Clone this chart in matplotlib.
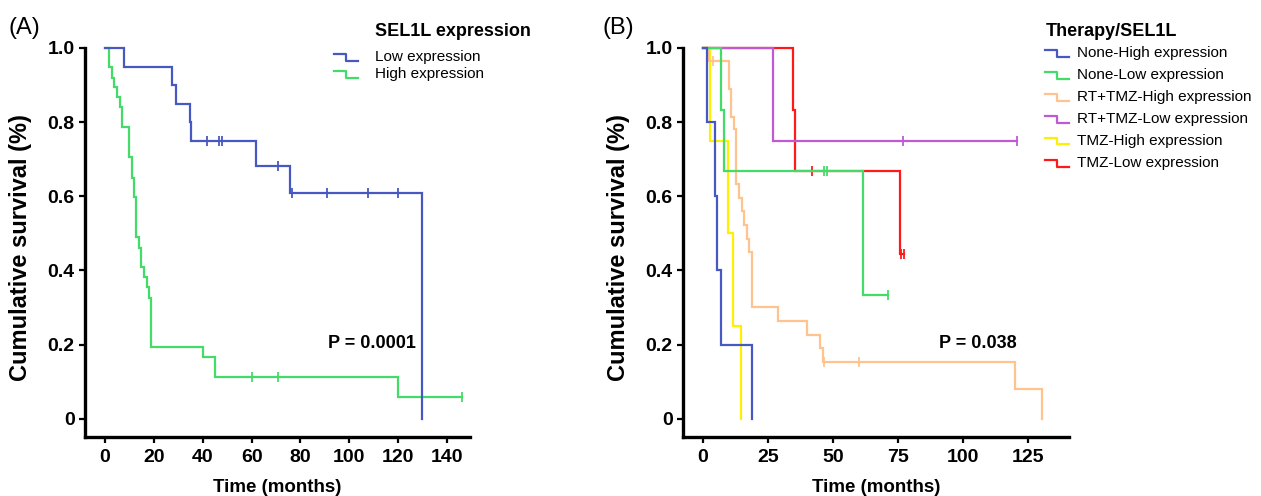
import matplotlib
matplotlib.use("Agg")
import matplotlib.pyplot as plt
from matplotlib.lines import Line2D

plt.rcParams['font.family'] = ['Liberation Sans', 'DejaVu Sans']

# ---------------- Data ----------------
# Panel A: SEL1L expression
a_low_t = [0, 7.9, 27.3, 28.9, 34.8, 35.2, 61.8, 75.9, 129.6]
a_low_s = [1.0, 0.95, 0.90, 0.85, 0.80, 0.75, 0.683, 0.608, 0.0]
a_low_cens_t = [41.6, 46.7, 47.8, 71.0, 76.7, 90.7, 107.8, 120.0]
a_low_cens_s = [0.75, 0.75, 0.75, 0.683, 0.608, 0.608, 0.608, 0.608]

a_high_t = [0, 1.8, 2.7, 3.7, 4.8, 6.1, 6.8, 10.0, 10.9, 12.0, 12.7, 14.1, 14.7,
            16.0, 17.1, 18.0, 18.8, 40.0, 45.0, 119.8, 146.0]
a_high_s = [1.0, 0.948, 0.919, 0.894, 0.868, 0.84, 0.787, 0.705, 0.65, 0.598, 0.491,
            0.461, 0.409, 0.382, 0.355, 0.326, 0.193, 0.167, 0.112, 0.058, 0.058]
a_high_cens_t = [60.0, 71.0, 146.0]
a_high_cens_s = [0.112, 0.112, 0.058]

# Panel B: Therapy/SEL1L
b_labels = ["None-High expression", "None-Low expression", "RT+TMZ-High expression",
            "RT+TMZ-Low expression", "TMZ-High expression", "TMZ-Low expression"]
b_none_high_t = [0, 1.7, 4.6, 5.5, 6.8, 18.7]
b_none_high_s = [1.0, 0.8, 0.6, 0.4, 0.2, 0.0]
b_none_high_ct, b_none_high_cs = [], []

b_none_low_t = [0, 6.8, 8.1, 61.7, 71.3]
b_none_low_s = [1.0, 0.833, 0.667, 0.333, 0.333]
b_none_low_ct = [46.5, 47.6, 71.3]
b_none_low_cs = [0.667, 0.667, 0.333]

b_rt_high_t = [0, 2.3, 10.0, 10.8, 12.1, 12.6, 14.0, 14.9, 15.9, 17.0, 17.8, 18.7,
               28.7, 39.9, 45.0, 46.0, 120.0, 130.3]
b_rt_high_s = [1.0, 0.964, 0.889, 0.814, 0.781, 0.632, 0.596, 0.56, 0.522, 0.486,
               0.45, 0.301, 0.263, 0.227, 0.191, 0.153, 0.081, 0.0]
b_rt_high_ct = [4.0, 46.5, 60.0]
b_rt_high_cs = [0.964, 0.153, 0.153]

b_rt_low_t = [0, 26.8, 120.9]
b_rt_low_s = [1.0, 0.75, 0.75]
b_rt_low_ct = [76.8, 120.9]
b_rt_low_cs = [0.75, 0.75]

b_tmz_high_t = [0, 2.7, 9.7, 11.4, 14.6]
b_tmz_high_s = [1.0, 0.75, 0.5, 0.25, 0.0]
b_tmz_high_ct, b_tmz_high_cs = [], []

b_tmz_low_t = [0, 34.7, 35.4, 75.8, 77.3]
b_tmz_low_s = [1.0, 0.833, 0.667, 0.444, 0.444]
b_tmz_low_ct = [41.8, 76.2, 77.3]
b_tmz_low_cs = [0.667, 0.444, 0.444]

y_ticks = [0, 0.2, 0.4, 0.6, 0.8, 1.0]
y_ticklabels = ["0", "0.2", "0.4", "0.6", "0.8", "1.0"]
a_xticks = [0, 20, 40, 60, 80, 100, 120, 140]
b_xticks = [0, 25, 50, 75, 100, 125]

# ---------------- Styles ----------------
BLUE = '#4858C2'
GREEN = '#44DC68'
ORANGE = '#FFC48E'
PURPLE = '#C05AD4'
YELLOW = '#FFF000'
RED = '#FF1A1A'

W, H = 1261, 496
fig = plt.figure(figsize=(W / 100, H / 100), dpi=100)


def px_axes(l, t, r, b):
    return fig.add_axes([l / W, 1 - b / H, (r - l) / W, (b - t) / H])


axA = px_axes(85, 48, 470, 437)
axB = px_axes(683, 48, 1069, 437)


def km(ax, t, s, ct, cs, color, z):
    ax.step(t, s, where='post', color=color, lw=1.6, clip_on=False, zorder=z,
            solid_joinstyle='miter')
    if ct:
        ax.plot(ct, cs, linestyle='none', marker='|', markersize=6.5,
                markeredgewidth=1.3, color=color, clip_on=False, zorder=z)


def style(ax, xlim, xticks):
    ax.set_xlim(*xlim)
    ax.set_ylim(-0.049, 1.0)
    for sp in ['top', 'right']:
        ax.spines[sp].set_visible(False)
    for sp in ['left', 'bottom']:
        ax.spines[sp].set_linewidth(2.4)
        ax.spines[sp].set_capstyle('projecting')
    ax.set_yticks(y_ticks)
    ax.set_yticklabels(y_ticklabels)
    ax.set_xticks(xticks)
    ax.tick_params(axis='both', direction='out', length=4.5, width=1.6,
                   labelsize=14)
    ax.tick_params(axis='x', pad=4)
    ax.tick_params(axis='y', pad=3)
    for lab in ax.get_xticklabels() + ax.get_yticklabels():
        lab.set_fontweight('bold')
    ax.set_xlabel("Time (months)", fontsize=13.5, fontweight='bold')
    ax.set_ylabel("Cumulative survival (%)", fontsize=17, fontweight='bold')
    ax.xaxis.set_label_coords(0.5, -0.131)
    ax.yaxis.set_label_coords(-0.168, 0.488)
    ax.xaxis.label.set_va('center')
    ax.yaxis.label.set_va('center')


# Panel A
km(axA, a_low_t, a_low_s, a_low_cens_t, a_low_cens_s, BLUE, 3)
km(axA, a_high_t, a_high_s, a_high_cens_t, a_high_cens_s, GREEN, 2)
style(axA, (-8.2, 149.4), a_xticks)
axA.text(127.3, 0.203, "P = 0.0001", ha='right', va='center', fontsize=13,
         fontweight='bold')

# Panel B
b_series = [
    (b_none_high_t, b_none_high_s, b_none_high_ct, b_none_high_cs, BLUE),
    (b_none_low_t, b_none_low_s, b_none_low_ct, b_none_low_cs, GREEN),
    (b_rt_high_t, b_rt_high_s, b_rt_high_ct, b_rt_high_cs, ORANGE),
    (b_rt_low_t, b_rt_low_s, b_rt_low_ct, b_rt_low_cs, PURPLE),
    (b_tmz_high_t, b_tmz_high_s, b_tmz_high_ct, b_tmz_high_cs, YELLOW),
    (b_tmz_low_t, b_tmz_low_s, b_tmz_low_ct, b_tmz_low_cs, RED),
]
for i, (t, s, ct, cs, c) in enumerate(b_series):
    km(axB, t, s, ct, cs, c, 10 - i)
style(axB, (-7.7, 140.8), b_xticks)
axB.text(120.7, 0.203, "P = 0.038", ha='right', va='center', fontsize=13,
         fontweight='bold')

# Panel letters
fig.text(8 / W, 1 - 28 / H, "(A)", fontsize=17, ha='left', va='center')
fig.text(603 / W, 1 - 28 / H, "(B)", fontsize=17, ha='left', va='center')


def legend_entry(x0, yc, color, label, tx):
    xs = [x0 / W, (x0 + 12) / W, (x0 + 12) / W, (x0 + 24) / W]
    ys = [1 - (yc - 3.5) / H, 1 - (yc - 3.5) / H, 1 - (yc + 3.5) / H, 1 - (yc + 3.5) / H]
    fig.add_artist(Line2D(xs, ys, color=color, lw=1.6, transform=fig.transFigure))
    fig.text(tx / W, 1 - yc / H, label, fontsize=11, ha='left', va='center')


# Legend A
fig.text(375 / W, 1 - 31 / H, "SEL1L expression", fontsize=13, fontweight='bold',
         ha='left', va='center')
legend_entry(334, 57, BLUE, "Low expression", 375)
legend_entry(334, 74, GREEN, "High expression", 375)

# Legend B
fig.text(1046 / W, 1 - 31 / H, "Therapy/SEL1L", fontsize=13, fontweight='bold',
         ha='left', va='center')
for i, (ser, lab) in enumerate(zip(b_series, b_labels)):
    legend_entry(1045, 53 + 22 * i, ser[4], lab, 1077)

fig.savefig("out.png", dpi=100)
